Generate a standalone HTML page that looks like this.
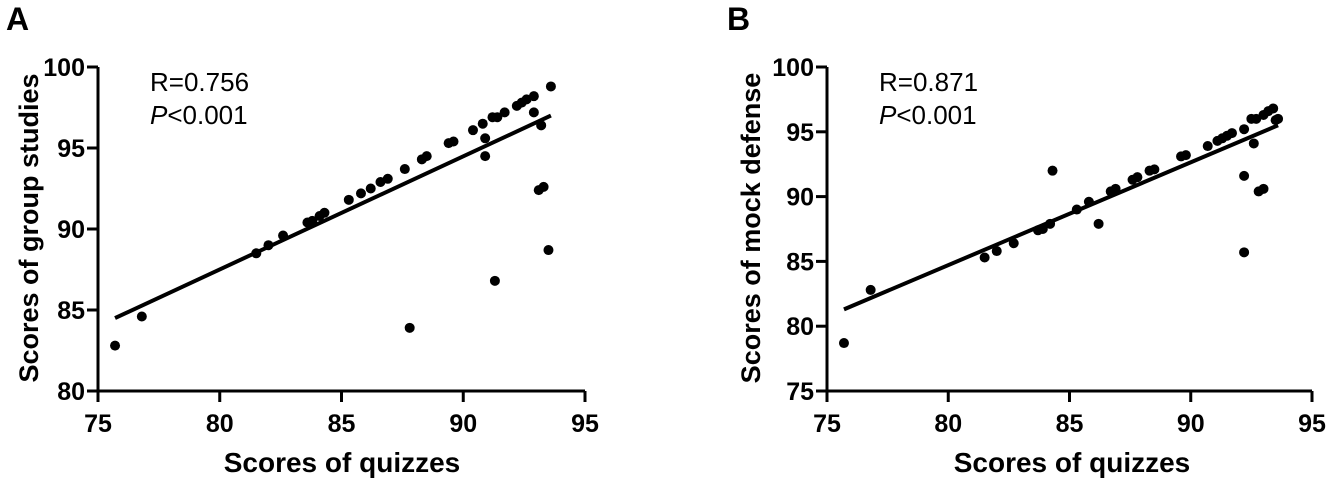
<!DOCTYPE html>
<html><head><meta charset="utf-8"><style>
html,body{margin:0;padding:0;background:#fff;}
svg{display:block;font-family:"Liberation Sans",Arial,sans-serif;}
</style></head><body>
<svg id="fig" width="1328" height="482" viewBox="0 0 1328 482" xmlns="http://www.w3.org/2000/svg"></svg>
<script>
const xTicks=[75,80,85,90,95];
const yTicksA=[80,85,90,95,100];
const yTicksB=[75,80,85,90,95,100];
const quizA=[75.7,76.8,81.5,82.0,82.6,83.6,83.8,84.1,84.3,85.3,85.8,86.2,86.6,86.9,87.6,87.8,88.3,88.5,89.4,89.6,90.4,90.8,90.9,90.9,91.2,91.4,91.3,91.7,92.2,92.4,92.6,92.9,92.9,93.1,93.3,93.2,93.5,93.6];
const groupA=[82.8,84.6,88.5,89.0,89.6,90.4,90.5,90.8,91.0,91.8,92.2,92.5,92.9,93.1,93.7,83.9,94.3,94.5,95.3,95.4,96.1,96.5,95.6,94.5,96.9,96.9,86.8,97.2,97.6,97.8,98.0,98.2,97.2,92.4,92.6,96.4,88.7,98.8];
const quizB=[75.7,76.8,81.5,82.0,82.7,83.7,83.9,84.2,84.3,85.3,85.8,86.2,86.7,86.9,87.6,87.8,88.3,88.5,89.6,89.8,90.7,91.1,91.3,91.5,91.7,92.2,92.2,92.2,92.5,92.7,92.6,93.0,92.8,93.0,93.2,93.4,93.5,93.6];
const mockB=[78.7,82.8,85.3,85.8,86.4,87.4,87.5,87.9,92.0,89.0,89.6,87.9,90.4,90.6,91.3,91.5,92.0,92.1,93.1,93.2,93.9,94.3,94.5,94.7,94.9,95.2,91.6,85.7,96.0,96.0,94.1,96.3,90.4,90.6,96.6,96.8,95.9,96.0];
const fitA=[[75.7,84.5],[93.6,97.0]];
const fitB=[[75.7,81.3],[93.6,95.5]];
const NS="http://www.w3.org/2000/svg";
const svg=document.getElementById('fig');
function mk(tag,attrs,parent){const e=document.createElementNS(NS,tag);for(const k in attrs)e.setAttribute(k,attrs[k]);(parent||svg).appendChild(e);return e;}
function panel(cfg){
  const g=mk('g',{});
  
  
  const x0=cfg.x0,x1=cfg.x1,y0=391,y1=67;
  const sx=v=>x0+(v-75)/(95-75)*(x1-x0);
  const sy=v=>y0-(v-cfg.ymin)/(100-cfg.ymin)*(y0-y1);
  const lab=mk('text',{x:cfg.labX,y:30,'font-size':32,'font-weight':'bold'},g);lab.textContent=cfg.letter;
  
  
  const ax=mk('path',{d:`M${x0} ${y1}V${y0}H${x1}`,stroke:'#000','stroke-width':3,fill:'none'},g);
  
  
  xTicks.forEach(t=>{
    mk('line',{x1:sx(t),x2:sx(t),y1:y0,y2:y0+11,stroke:'#000','stroke-width':3},g);
    const tx=mk('text',{x:sx(t),y:432,'font-size':25,'font-weight':'bold','text-anchor':'middle'},g);tx.textContent=t;
    
    
  });
  cfg.yTicks.forEach(t=>{
    mk('line',{x1:x0-11,x2:x0,y1:sy(t),y2:sy(t),stroke:'#000','stroke-width':3},g);
    const ty=mk('text',{x:x0-13,y:sy(t)+9,'font-size':25,'font-weight':'bold','text-anchor':'end'},g);ty.textContent=t;
    
    
  });
  const xt=mk('text',{x:cfg.xtX,y:472,'font-size':28,'font-weight':'bold','text-anchor':'middle'},g);xt.textContent='Scores of quizzes';
  
  
  const yt=mk('text',{x:0,y:0,'font-size':27,'font-weight':'bold','text-anchor':'middle',transform:`translate(${cfg.ytX},228) rotate(-90)`},g);yt.textContent=cfg.ytitle;
  
  
  const r=mk('text',{x:x0+52,y:91,'font-size':26},g);r.textContent=cfg.r;
  
  
  const p=mk('text',{x:x0+52,y:124,'font-size':26},g);
  
  
  const pi=mk('tspan',{'font-style':'italic'},p);pi.textContent='P';
  const pr=mk('tspan',{},p);pr.textContent='<0.001';
  const fl=mk('line',{x1:sx(cfg.fit[0][0]),y1:sy(cfg.fit[0][1]),x2:sx(cfg.fit[1][0]),y2:sy(cfg.fit[1][1]),stroke:'#000','stroke-width':4},g);
  
  
  cfg.xs.forEach((v,i)=>{
    const c=mk('circle',{cx:sx(v),cy:sy(cfg.ys[i]),r:5,fill:'#000'},g);
    
    
  });
}
panel({name:'panel-a',letter:'A',labX:6,x0:98,x1:585,ymin:80,yTicks:yTicksA,ytitle:'Scores of group studies',ytX:38,xtX:342,r:'R=0.756',fit:fitA,xs:quizA,ys:groupA});
panel({name:'panel-b',letter:'B',labX:727,x0:827,x1:1312,ymin:75,yTicks:yTicksB,ytitle:'Scores of  mock defense',ytX:760,xtX:1072,r:'R=0.871',fit:fitB,xs:quizB,ys:mockB});
</script>
</body></html>
